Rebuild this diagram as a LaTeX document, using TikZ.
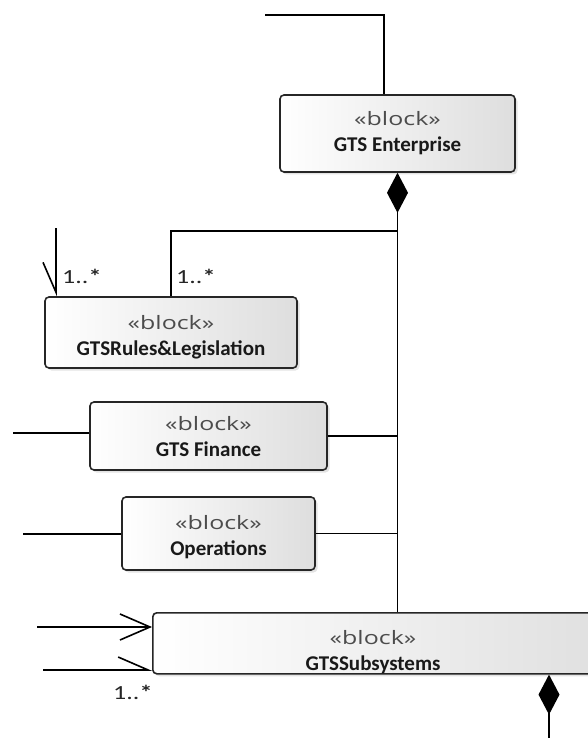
\documentclass[tikz,border=0pt]{standalone}
\usepackage{fontspec}
\setmainfont{Carlito}
\newfontfamily\stereofont{Open Sans}
\usetikzlibrary{arrows.meta,shadows}

% stereotype line and bold name, lowered by #2 inside the block
\newcommand{\stereo}{{\stereofont\fontsize{18.5}{26}\selectfont\color{black!70}\scalebox{1.35}[1]{«block»}}}
\newcommand{\blk}[2]{\raisebox{-#2}[\height][\depth]{\begin{tabular}{@{}c@{}}\stereo\\\textbf{#1}\end{tabular}}}
\newcommand{\mlt}{\scalebox{1.3}[1]{1..\textbf{*}}}

\begin{document}
\begin{tikzpicture}[x=1pt,y=-1pt,
  block/.style={draw=black!85, line width=1.6pt, rounded corners=4pt,
    left color=white, right color=black!13,
    drop shadow={shadow xshift=2.5pt, shadow yshift=-2.5pt, opacity=0.22},
    inner sep=0pt, text=black!90,
    font=\fontsize{21}{26}\selectfont},
  blocktext/.style={inner sep=0pt, text=black!90,
    font=\fontsize{21}{26}\selectfont},
  conn/.style={line width=1.7pt, black},
  openhead/.style={-{Straight Barb[length=30pt,width=26pt,line width=1.6pt]}},
  halfhead/.style={-{Straight Barb[harpoon,#1,length=30pt,width=26pt,line width=1.6pt]}},
  comp/.style={{Diamond[length=40pt,width=21pt]}-},
  mult/.style={font=\fontsize{20}{20}\selectfont, inner sep=0pt, anchor=base west, text=black!85}]
\useasboundingbox (0,0) rectangle (588,738);
\clip (0,0) rectangle (588,738);

% blocks
\node[block, minimum width=235, minimum height=77] (ent) at (397.5,133.5)
  {\blk{GTS Enterprise}{0pt}};
\node[block, minimum width=252, minimum height=71] (rules) at (171,332.5)
  {\blk{GTSRules\&Legislation}{5pt}};
\node[block, minimum width=237, minimum height=68] (fin) at (208.5,436)
  {\blk{GTS Finance}{2pt}};
\node[block, minimum width=193, minimum height=73] (ops) at (218.5,533.5)
  {\blk{Operations}{4pt}};
\node[block, minimum width=480, minimum height=61, anchor=north west] (subs) at (152,612) {};
\node[blocktext] (substext) at (373,652) {\blk{GTSSubsystems}{0pt}};

% composition trunk from GTS Enterprise
\coordinate (j1) at (397.5,231);
\draw[conn, comp] (ent.south) -- (ent.south |- subs.north);
\draw[conn] (j1) -| (rules.north);
\draw[conn] (fin.east) -- (fin.east -| ent.south);
\draw[conn] (ops.east) -- (ops.east -| ent.south);

% connector entering GTS Enterprise from above
\coordinate (t0) at (265,15);
\draw[conn] (t0) -| ([xshift=-13.5pt]ent.north);

% loose ends on the left
\coordinate (r0) at (56,228);
\draw[conn, halfhead=swap] (r0) -- (r0 |- rules.north);
\coordinate (f0) at (13,433);
\draw[conn] (f0) -- (f0 -| fin.west);
\coordinate (o0) at (23,534);
\draw[conn] (o0) -- (o0 -| ops.west);
\coordinate (s1) at (37,627);
\draw[conn, openhead] (s1) -- (s1 -| subs.west);
\coordinate (s2) at (43,670);
\draw[conn, halfhead=] (s2) -- (s2 -| subs.west);

% composition below GTSSubsystems
\coordinate (b0) at (549,740);
\draw[conn, comp] (b0 |- subs.south) -- (b0);

% multiplicities
\node[mult] (m1) at (62,283) {\mlt};
\node[mult] (m2) at (176,283) {\mlt};
\node[mult] (m3) at (113,699) {\mlt};
\end{tikzpicture}
\end{document}
